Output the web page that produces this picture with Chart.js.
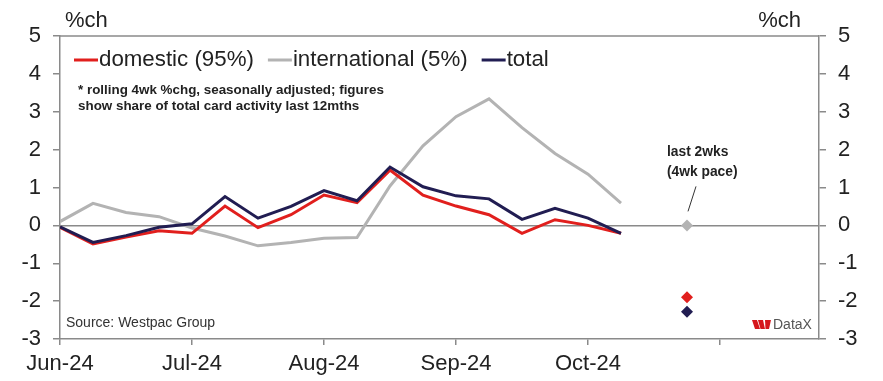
<!DOCTYPE html>
<html>
<head>
<meta charset="utf-8">
<script src="https://cdn.jsdelivr.net/npm/chart.js@4.4.1/dist/chart.umd.min.js"></script>
<style>
  html, body { margin: 0; padding: 0; background: #fff; }
  #wrap { width: 883px; height: 381px; position: relative; }
</style>
</head>
<body>
<div id="wrap"><canvas id="cardChart"></canvas></div>
<script>
// ---- data (weekly, 4 weeks between month ticks) ----
const monthLabels = ['Jun-24', 'Jul-24', 'Aug-24', 'Sep-24', 'Oct-24', ''];
const monthTickWeeks = [0, 4, 8, 12, 16, 20];
const weeks = [0, 1, 2, 3, 4, 5, 6, 7, 8, 9, 10, 11, 12, 13, 14, 15, 16, 17];
const domestic = [-0.05, -0.49, -0.31, -0.14, -0.21, 0.51, -0.06, 0.28, 0.80, 0.60, 1.46, 0.80, 0.51, 0.28, -0.21, 0.15, 0.00, -0.21];
const international = [0.10, 0.58, 0.34, 0.23, -0.07, -0.28, -0.54, -0.45, -0.34, -0.32, 1.04, 2.10, 2.87, 3.34, 2.58, 1.90, 1.35, 0.59];
const total = [-0.04, -0.45, -0.27, -0.05, 0.04, 0.76, 0.19, 0.50, 0.92, 0.65, 1.54, 1.02, 0.78, 0.70, 0.16, 0.45, 0.19, -0.21];

// last 2wks (4wk pace)
const paceWeek = 19;
const domesticPace = -1.90;
const internationalPace = 0.00;
const totalPace = -2.28;

const yTicks = [-3, -2, -1, 0, 1, 2, 3, 4, 5];

const RED = '#e11f1d';
const GREY = '#b3b3b3';
const NAVY = '#211d52';
const AXIS = '#8a8a8a';
const TEXT = '#222222';
const FONT = "'Liberation Sans', Arial, sans-serif";

function toPoints(values) {
    return values.map((v, i) => ({ x: weeks[i], y: v }));
}

// custom legend, notes, frame and logo
const decorations = {
    id: 'decorations',
    afterDraw(chart) {
        const ctx = chart.ctx;
        const area = chart.chartArea;
        const xs = chart.scales.x;
        const ys = chart.scales.y;
        ctx.save();

        // top frame line
        ctx.strokeStyle = AXIS;
        ctx.lineWidth = 1.5;
        ctx.beginPath();
        ctx.moveTo(area.left, area.top);
        ctx.lineTo(area.right, area.top);
        ctx.stroke();

        // axis unit labels
        ctx.fillStyle = TEXT;
        ctx.font = '22px ' + FONT;
        ctx.textBaseline = 'middle';
        ctx.textAlign = 'left';
        ctx.fillText('%ch', 65, 21);
        ctx.textAlign = 'right';
        ctx.fillText('%ch', 801, 21);

        // legend
        let lx = 74;
        const ly = 60;
        ctx.textAlign = 'left';
        ctx.font = '22.3px ' + FONT;
        chart.data.datasets.slice(0, 3).forEach(ds => {
            ctx.strokeStyle = ds.borderColor;
            ctx.lineWidth = 3;
            ctx.beginPath();
            ctx.moveTo(lx, ly);
            ctx.lineTo(lx + 24, ly);
            ctx.stroke();
            ctx.fillStyle = TEXT;
            ctx.fillText(ds.label, lx + 25, ly);
            lx += 25 + ctx.measureText(ds.label).width + 14;
        });

        // footnote
        ctx.font = 'bold 13.4px ' + FONT;
        ctx.fillText('* rolling 4wk %chg, seasonally adjusted; figures', 78, 90);
        ctx.fillText('show share of total card activity last 12mths', 78, 106);

        // pace annotation
        const px = xs.getPixelForValue(paceWeek);
        const py = ys.getPixelForValue(internationalPace);
        ctx.font = 'bold 13.8px ' + FONT;
        ctx.fillText('last 2wks', px - 20, py - 73);
        ctx.fillText('(4wk pace)', px - 20, py - 53);
        ctx.strokeStyle = '#333';
        ctx.lineWidth = 1;
        ctx.beginPath();
        ctx.moveTo(px + 9, py - 39);
        ctx.lineTo(px + 1, py - 14);
        ctx.stroke();

        // source
        ctx.font = '14px ' + FONT;
        ctx.fillStyle = '#333';
        ctx.fillText('Source: Westpac Group', area.left + 6, area.bottom - 16);

        // DataX logo
        const bx = area.right - 67;
        const by = area.bottom - 19;
        ctx.fillStyle = '#d5161c';
        ctx.beginPath();
        ctx.moveTo(bx, by); ctx.lineTo(bx + 5, by); ctx.lineTo(bx + 8, by + 9); ctx.lineTo(bx + 3, by + 9);
        ctx.closePath(); ctx.fill();
        ctx.beginPath();
        ctx.moveTo(bx + 6, by); ctx.lineTo(bx + 11, by); ctx.lineTo(bx + 13, by + 9); ctx.lineTo(bx + 8.5, by + 9);
        ctx.closePath(); ctx.fill();
        ctx.beginPath();
        ctx.moveTo(bx + 13, by); ctx.lineTo(bx + 19, by); ctx.lineTo(bx + 17, by + 9); ctx.lineTo(bx + 13.5, by + 9);
        ctx.closePath(); ctx.fill();
        ctx.fillStyle = '#555';
        ctx.font = '14px ' + FONT;
        ctx.fillText('DataX', bx + 21, by + 5);

        ctx.restore();
    }
};

const ctx = document.getElementById('cardChart');

new Chart(ctx, {
    type: 'line',
    data: {
        datasets: [
            {
                label: 'domestic (95%)',
                data: toPoints(domestic),
                borderColor: RED,
                borderWidth: 3,
                pointRadius: 0,
                order: 1
            },
            {
                label: 'international (5%)',
                data: toPoints(international),
                borderColor: GREY,
                borderWidth: 3,
                pointRadius: 0,
                order: 2
            },
            {
                label: 'total',
                data: toPoints(total),
                borderColor: NAVY,
                borderWidth: 3,
                pointRadius: 0,
                order: 0
            },
            {
                label: 'pace',
                data: [
                    { x: paceWeek, y: internationalPace },
                    { x: paceWeek, y: domesticPace },
                    { x: paceWeek, y: totalPace }
                ],
                showLine: false,
                pointStyle: 'rectRot',
                pointRadius: 6,
                pointBorderWidth: 0,
                pointBackgroundColor: [GREY, RED, NAVY],
                pointBorderColor: [GREY, RED, NAVY],
                order: -1
            }
        ]
    },
    options: {
        responsive: true,
        maintainAspectRatio: false,
        animation: false,
        layout: { padding: { top: 36, left: 0, right: 0, bottom: 0 } },
        plugins: {
            legend: { display: false },
            tooltip: { enabled: false }
        },
        scales: {
            x: {
                type: 'linear',
                min: 0,
                max: 23,
                afterBuildTicks: scale => {
                    scale.ticks = monthTickWeeks.map(v => ({ value: v }));
                },
                afterFit: scale => { scale.height = 42; },
                ticks: {
                    autoSkip: false,
                    maxRotation: 0,
                    padding: 6,
                    color: TEXT,
                    font: { family: FONT, size: 22 },
                    callback: v => monthLabels[monthTickWeeks.indexOf(v)]
                },
                grid: {
                    drawOnChartArea: false,
                    tickLength: 6,
                    tickColor: AXIS,
                    lineWidth: 1.5
                },
                border: { display: true, color: AXIS, width: 1.5 }
            },
            y: {
                position: 'left',
                min: -3,
                max: 5,
                afterBuildTicks: scale => {
                    scale.ticks = yTicks.map(v => ({ value: v }));
                },
                afterFit: scale => { scale.width = 60; },
                ticks: {
                    padding: 12,
                    color: TEXT,
                    font: { family: FONT, size: 22 }
                },
                grid: {
                    color: c => (c.tick && c.tick.value === 0 ? AXIS : 'rgba(0,0,0,0)'),
                    tickColor: AXIS,
                    tickLength: 7,
                    lineWidth: 1.5
                },
                border: { display: true, color: AXIS, width: 1.5 }
            },
            y2: {
                position: 'right',
                min: -3,
                max: 5,
                afterBuildTicks: scale => {
                    scale.ticks = yTicks.map(v => ({ value: v }));
                },
                afterFit: scale => { scale.width = 64; },
                ticks: {
                    padding: 12,
                    color: TEXT,
                    font: { family: FONT, size: 22 }
                },
                grid: {
                    drawOnChartArea: false,
                    tickColor: AXIS,
                    tickLength: 7,
                    lineWidth: 1.5
                },
                border: { display: true, color: AXIS, width: 1.5 }
            }
        }
    },
    plugins: [decorations]
});
</script>
</body>
</html>
